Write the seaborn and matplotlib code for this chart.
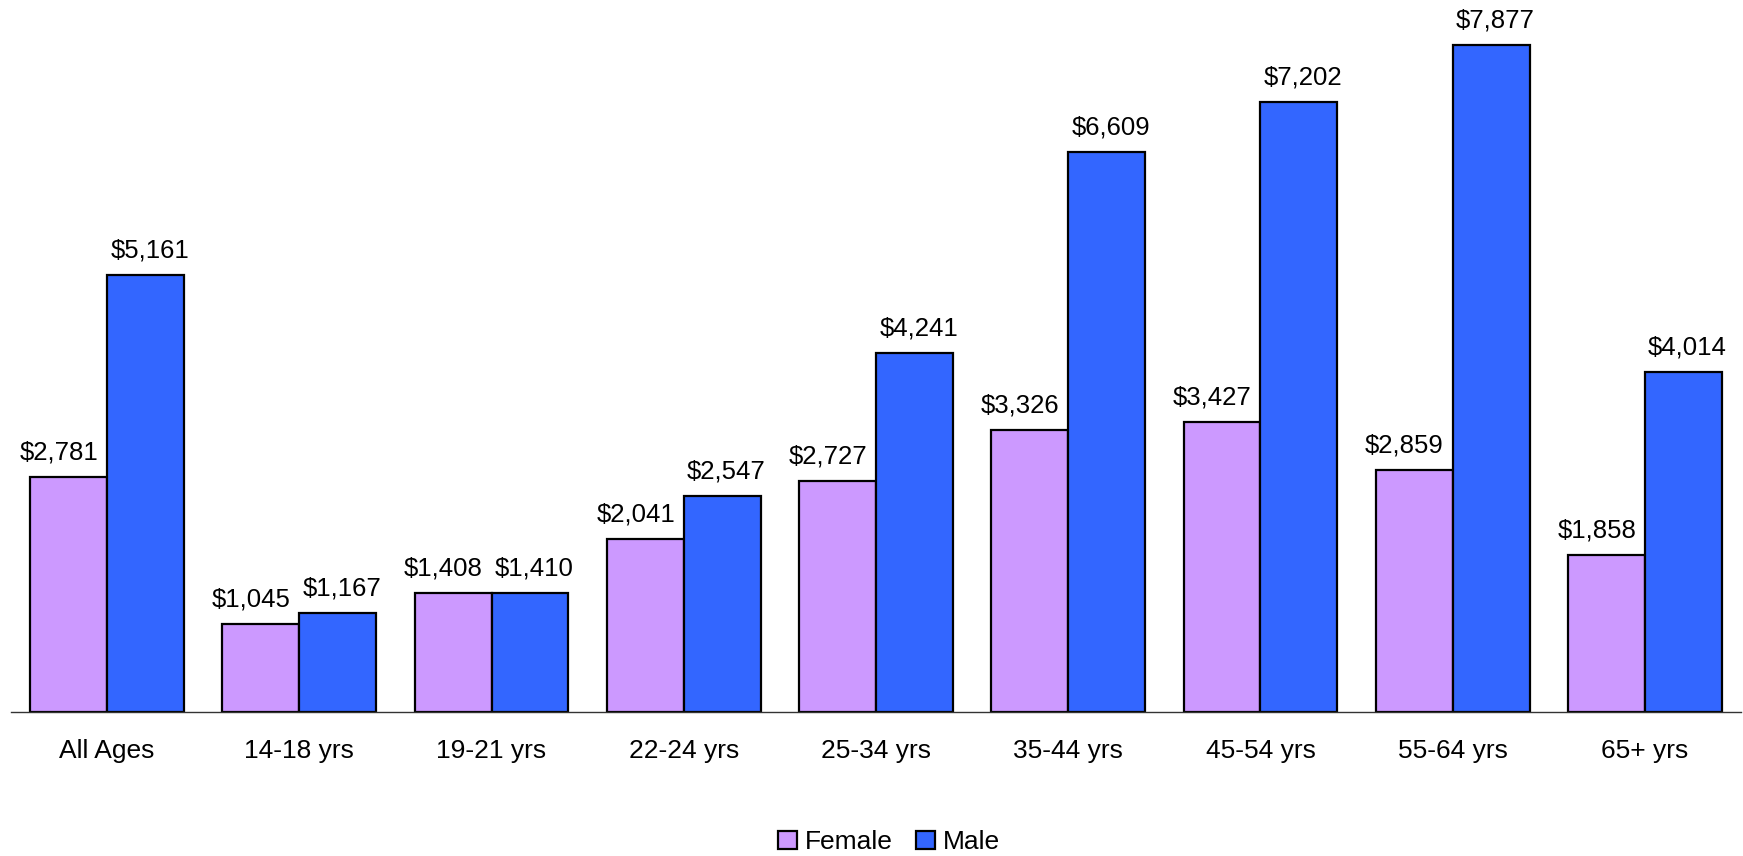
import matplotlib
matplotlib.use("Agg")
import matplotlib.pyplot as plt
import seaborn as sns
import pandas as pd
from matplotlib.patches import Patch
from matplotlib.ticker import FixedLocator, NullFormatter

categories = ["All Ages", "14-18 yrs", "19-21 yrs", "22-24 yrs", "25-34 yrs",
              "35-44 yrs", "45-54 yrs", "55-64 yrs", "65+ yrs"]
female = [2781, 1045, 1408, 2041, 2727, 3326, 3427, 2859, 1858]
male = [5161, 1167, 1410, 2547, 4241, 6609, 7202, 7877, 4014]
series = ["Female", "Male"]
colors = ["#CC99FF", "#3366FF"]

df = pd.DataFrame({
    "age": categories * 2,
    "value": female + male,
    "sex": ["Female"] * len(categories) + ["Male"] * len(categories),
})

sns.set_style("white")
plt.rcParams["font.family"] = ["Liberation Sans", "DejaVu Sans"]
plt.rcParams["text.color"] = "black"
plt.rcParams["xtick.color"] = "black"
plt.rcParams["axes.labelcolor"] = "black"

fig = plt.figure(figsize=(17.43, 8.56), dpi=100)
ax = fig.add_axes([11 / 1743, 144 / 856, 1730 / 1743, 712 / 856])

sns.barplot(data=df, x="age", y="value", hue="sex", order=categories,
            hue_order=series, palette=colors, saturation=1, width=0.8,
            edgecolor="black", linewidth=1.6, ax=ax, legend=False)

x_shift = [-7, 3]
for cont, dx in zip(ax.containers, x_shift):
    labels = [f"${v:,.0f}" for v in cont.datavalues]
    anns = ax.bar_label(cont, labels=labels, padding=9, fontsize=18.5, color="black")
    for a in anns:
        a.xyann = (dx, 9)

ax.set_xlim(-0.5, len(categories) - 0.5)
ax.set_ylim(0, 8408)
ax.set_xlabel("")
ax.set_ylabel("")
ax.set_yticks([])
for s in ["top", "right", "left"]:
    ax.spines[s].set_visible(False)
ax.spines["bottom"].set_color("#333333")
ax.spines["bottom"].set_linewidth(1.0)

ax.tick_params(axis="x", which="major", length=0, pad=19.5, labelsize=19, labelcolor="black")
ax.xaxis.set_minor_locator(FixedLocator([i - 0.5 for i in range(len(categories) + 1)]))
ax.xaxis.set_minor_formatter(NullFormatter())
ax.tick_params(axis="x", which="minor", length=8, width=1.0, color="#333333", direction="out")

handles = [Patch(facecolor=c, edgecolor="black", linewidth=1.6, label=l)
           for c, l in zip(colors, series)]
fig.legend(handles=handles, loc="center", bbox_to_anchor=(0.51, 14 / 856),
           ncol=2, frameon=False, fontsize=19, handlelength=0.7, handleheight=0.7,
           handletextpad=0.3, columnspacing=0.9, borderpad=0)

fig.savefig("out.png", dpi=100)
